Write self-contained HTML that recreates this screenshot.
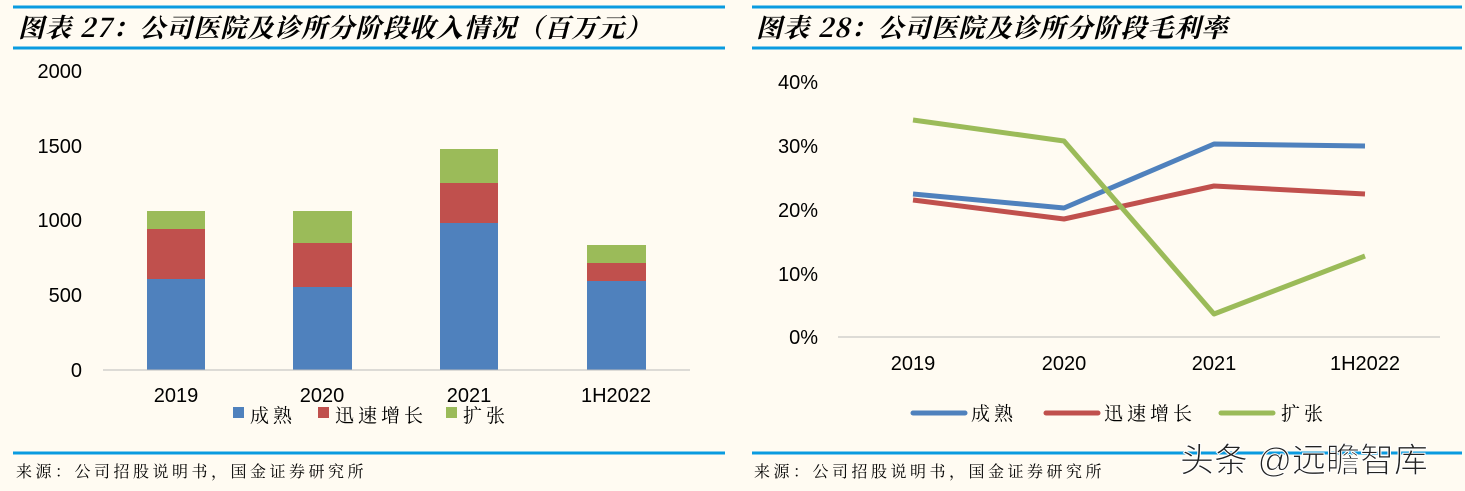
<!DOCTYPE html>
<html><head><meta charset="utf-8"><style>
body{margin:0;background:#fffbf2;}
svg{display:block}
text{font-family:"Liberation Sans","Noto Sans CJK SC",sans-serif;}
.t{font-family:"Noto Serif CJK SC","Liberation Serif",serif;font-weight:bold;font-style:italic;font-size:26px;letter-spacing:1px;}
.s{font-family:"Noto Serif CJK SC","Liberation Serif",serif;font-size:16px;letter-spacing:3.5px;}
.lg{font-family:"Noto Serif CJK SC","Liberation Serif",serif;font-size:19px;letter-spacing:4px;}
</style></head><body>
<svg width="1465" height="491" viewBox="0 0 1465 491">
<rect width="1465" height="491" fill="#fffbf2"/>
<g stroke="#0a9be0" stroke-width="3">
<line x1="13" y1="7" x2="725" y2="7"/><line x1="13" y1="48" x2="725" y2="48"/>
<line x1="752" y1="7" x2="1462" y2="7"/><line x1="752" y1="48" x2="1462" y2="48"/>
<line x1="13" y1="453" x2="725" y2="453"/><line x1="752" y1="453" x2="1462" y2="453"/>
</g>
<text class="t" x="18" y="37">图表 27：公司医院及诊所分阶段收入情况（百万元）</text>
<text class="t" x="756" y="37">图表 28：公司医院及诊所分阶段毛利率</text>
<text class="s" x="16" y="477">来源：公司招股说明书，国金证券研究所</text>
<text class="s" x="754" y="477">来源：公司招股说明书，国金证券研究所</text>
<g font-size="20" text-anchor="end" fill="#000">
<text x="82" y="78">2000</text><text x="82" y="153">1500</text><text x="82" y="227">1000</text><text x="82" y="302">500</text><text x="82" y="377">0</text>
</g>
<g>
<rect x="147" y="279" width="58" height="91" fill="#4f81bd"/><rect x="147" y="229" width="58" height="50" fill="#c0504d"/><rect x="147" y="211" width="58" height="18" fill="#9bbb59"/>
<rect x="293" y="287" width="59" height="83" fill="#4f81bd"/><rect x="293" y="243" width="59" height="44" fill="#c0504d"/><rect x="293" y="211" width="59" height="32" fill="#9bbb59"/>
<rect x="440" y="223" width="58" height="147" fill="#4f81bd"/><rect x="440" y="183" width="58" height="40" fill="#c0504d"/><rect x="440" y="149" width="58" height="34" fill="#9bbb59"/>
<rect x="587" y="281" width="59" height="89" fill="#4f81bd"/><rect x="587" y="263" width="59" height="18" fill="#c0504d"/><rect x="587" y="245" width="59" height="18" fill="#9bbb59"/>
</g>
<line x1="103" y1="370" x2="690" y2="370" stroke="#bbb" stroke-width="1"/>
<g font-size="20" text-anchor="middle">
<text x="176" y="402">2019</text><text x="322" y="402">2020</text><text x="469" y="402">2021</text><text x="616" y="402">1H2022</text>
</g>
<rect x="233" y="407" width="11" height="11" fill="#4f81bd"/><text class="lg" x="250" y="422">成熟</text>
<rect x="318" y="407" width="11" height="11" fill="#c0504d"/><text class="lg" x="335" y="422">迅速增长</text>
<rect x="446" y="407" width="11" height="11" fill="#9bbb59"/><text class="lg" x="463" y="422">扩张</text>
<g font-size="20" text-anchor="end">
<text x="818" y="89">40%</text><text x="818" y="153">30%</text><text x="818" y="217">20%</text><text x="818" y="281">10%</text><text x="818" y="344">0%</text>
</g>
<line x1="838" y1="337" x2="1440" y2="337" stroke="#bbb" stroke-width="1"/>
<g fill="none" stroke-width="5" stroke-linejoin="round">
<polyline points="913,194 1064,208 1214,144 1365,146" stroke="#4f81bd"/>
<polyline points="913,200 1064,219 1214,186 1365,194" stroke="#c0504d"/>
<polyline points="913,120 1064,141 1214,314 1365,256" stroke="#9bbb59"/>
</g>
<g font-size="20" text-anchor="middle">
<text x="913" y="370">2019</text><text x="1064" y="370">2020</text><text x="1214" y="370">2021</text><text x="1365" y="370">1H2022</text>
</g>
<g stroke-width="5" stroke-linecap="round">
<line x1="913" y1="413" x2="965" y2="413" stroke="#4f81bd"/>
<line x1="1046" y1="413" x2="1098" y2="413" stroke="#c0504d"/>
<line x1="1221" y1="413" x2="1273" y2="413" stroke="#9bbb59"/>
</g>
<text class="lg" x="971" y="420">成熟</text><text class="lg" x="1104" y="420">迅速增长</text><text class="lg" x="1281" y="420">扩张</text>
<text x="1180" y="472" font-size="34" fill="#222" stroke="#fff" stroke-width="1">头条 @远瞻智库</text>
</svg>
</body></html>
